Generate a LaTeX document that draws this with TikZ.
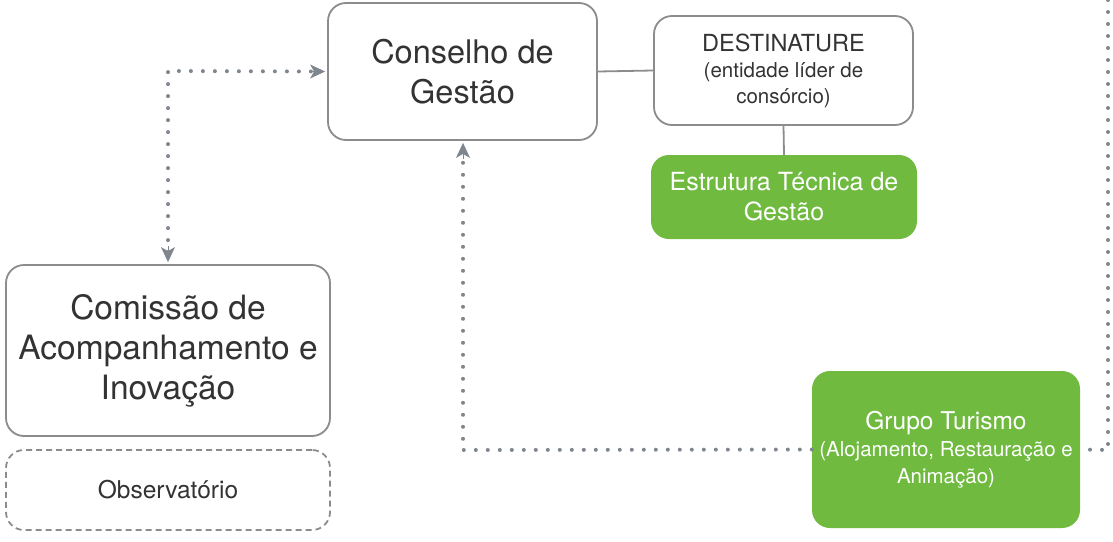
\documentclass[tikz,border=0pt]{standalone}
\usepackage{fontspec}
\setmainfont{TeX Gyre Heros}
\usetikzlibrary{arrows.meta}
\definecolor{boxgray}{HTML}{8C8C8C}
\definecolor{dotgray}{HTML}{7F868E}
\definecolor{txtgray}{HTML}{333333}
\definecolor{leafgreen}{HTML}{6FBA3F}
\tikzset{
  whitebox/.style={draw=boxgray, line width=1.8pt, rounded corners=18pt, fill=white, text=txtgray, align=center, inner sep=0pt},
  greenbox/.style={draw=none, rounded corners=18pt, fill=leafgreen, text=white, align=center, inner sep=0pt},
  dashbox/.style={draw=boxgray, line width=1.8pt, rounded corners=18pt, dash pattern=on 6pt off 4pt, text=txtgray, align=center, inner sep=0pt},
  plainlink/.style={draw=boxgray, line width=1.8pt},
  dotlink/.style={draw=dotgray, line width=4pt, line cap=round, dash pattern=on 0pt off 12pt},
  arrowtip/.style={-{Stealth[length=15pt,width=14pt,inset=4pt]}, dotgray, line width=1pt}
}
\begin{document}
\begin{tikzpicture}[x=1pt,y=-1pt]
\useasboundingbox (0,0) rectangle (1113,541);
\node[whitebox, minimum width=269pt, minimum height=137pt, font=\fontsize{32.5}{40}\selectfont] (cons) at (462.5,71.5) {Conselho de\\Gestão};
\node[whitebox, minimum width=259pt, minimum height=109pt, font=\fontsize{20.5}{26}\selectfont] (dest) at (783.5,70.5) {{\fontsize{23.5}{26}\selectfont DESTINATURE}\\(entidade líder de\\consórcio)};
\node[greenbox, minimum width=266pt, minimum height=84pt, font=\fontsize{25}{30}\selectfont] (estr) at (784,197) {Estrutura Técnica de\\Gestão};
\node[whitebox, minimum width=324pt, minimum height=171pt, font=\fontsize{33.5}{40}\selectfont] (comi) at (168,350.5) {Comissão de\\Acompanhamento e\\Inovação};
\node[dashbox, minimum width=324pt, minimum height=80pt, font=\fontsize{24.5}{26}\selectfont] (obs) at (168,490) {Observatório};
\node[greenbox, minimum width=268pt, minimum height=157pt, font=\fontsize{20.5}{27}\selectfont] (grupo) at (946,449.5) {{\fontsize{24.5}{27}\selectfont Grupo Turismo}\\(Alojamento, Restauração e\\Animação)};
\coordinate (topright) at (1108,0);
\coordinate (cornerA) at (168,71);
\coordinate (cornerB) at (463,450);
\coordinate (cornerC) at (1108,450);
% solid links
\draw[plainlink] (cons.east) -- (dest.west);
\draw[plainlink] (dest.south) -- (estr.north);
% dotted links
\draw[dotlink] ([yshift=12pt]comi.north -| cornerA) -- (cornerA) -- ([xshift=-14pt]cons.west);
\draw[arrowtip] ([yshift=18pt]comi.north -| cornerA) -- ([yshift=2pt]comi.north -| cornerA);
\draw[arrowtip] ([xshift=-18pt]cons.west) -- ([xshift=-2pt]cons.west);
\draw[dotlink] (grupo.west) -- (cornerB) -- ([yshift=-14pt]cons.south -| cornerB);
\draw[arrowtip] ([yshift=-18pt]cons.south -| cornerB) -- ([yshift=-2pt]cons.south -| cornerB);
\draw[dotlink] (topright) -- (cornerC) -- (grupo.east);
\end{tikzpicture}
\end{document}
